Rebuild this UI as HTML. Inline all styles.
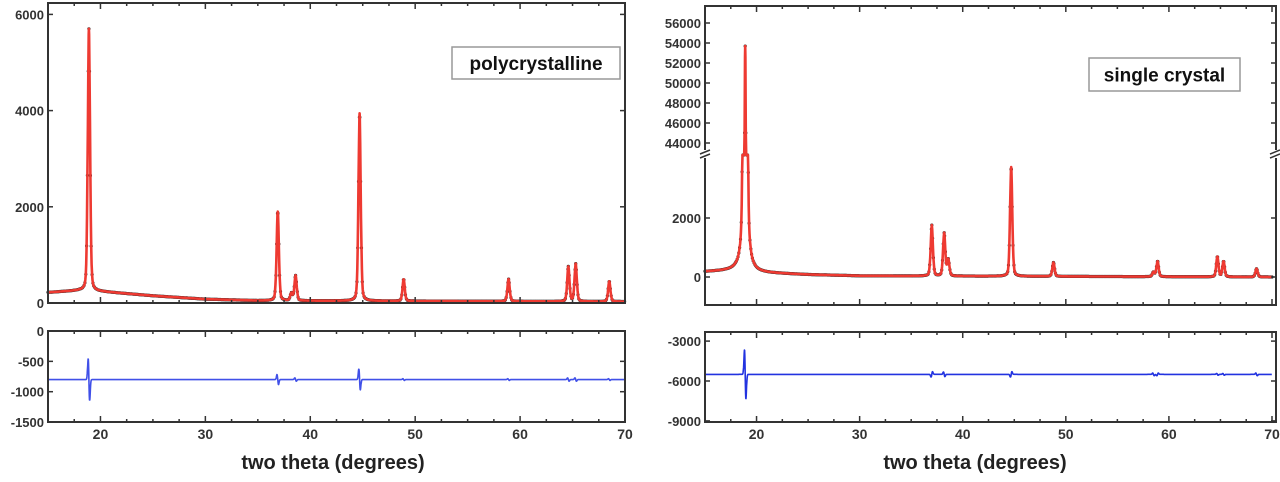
<!DOCTYPE html>
<html><head><meta charset="utf-8"><style>
body{margin:0;background:#fff;width:1280px;height:477px;overflow:hidden}
svg{font-family:"Liberation Sans",Arial,sans-serif;font-weight:bold}
</style></head><body>
<svg id="c" width="1280" height="477"></svg>
<script>
// ---- data ----
const polyPeakPos = [18.9, 36.9, 38.2, 38.6, 44.7, 48.9, 58.9, 64.6, 65.3, 68.5];
const polyPeakInt = [5450, 1850, 150, 520, 3900, 450, 460, 720, 780, 420];
const polyBgX = [15, 18, 20, 25, 30, 35, 50, 70];
const polyBgY = [220, 260, 240, 150, 80, 50, 40, 30];
const polyResAmp = [500, 120, 0, 40, 250, 20, 20, 40, 40, 20];
const singPeakPos = [18.9, 37.0, 38.2, 38.6, 44.7, 48.8, 58.5, 58.9, 64.7, 65.3, 68.5];
const singPeakInt = [53500, 1720, 1450, 550, 3700, 470, 150, 520, 680, 520, 280];
const singBgX = [15, 18, 20, 25, 30, 70];
const singBgY = [180, 220, 150, 80, 40, 0];
const singResAmp = [2700, -300, 250, 0, -300, 0, 150, -150, 100, 100, 150];
const xTicks = [20, 30, 40, 50, 60, 70];
const polyYTicks = [0, 2000, 4000, 6000];
const polyResTicks = [0, -500, -1000, -1500];
const singLowTicks = [0, 2000];
const singHighTicks = [44000, 46000, 48000, 50000, 52000, 54000, 56000];
const singResTicks = [-3000, -6000, -9000];

const svg = document.getElementById('c');
const NS = 'http://www.w3.org/2000/svg';
function mk(t, a, p) { const e = document.createElementNS(NS, t); for (const k in a) e.setAttribute(k, a[k]); (p || svg).appendChild(e); return e; }
function interp(xs, ys, x) { for (let i = 0; i < xs.length - 1; i++) if (x <= xs[i + 1]) return ys[i] + (ys[i + 1] - ys[i]) * (x - xs[i]) / (xs[i + 1] - xs[i]); return ys[ys.length - 1]; }
function profile(x, pos, ints, bx, by) { let v = interp(bx, by, x); for (let i = 0; i < pos.length; i++) { const d = (x - pos[i]) / 0.16; v += ints[i] / (1 + d * d * 2) * 0.35 + ints[i] * 0.65 * Math.exp(-d * d); } return v; }
function residual(x, pos, amp, base) { let v = base; for (let i = 0; i < pos.length; i++) { const d = (x - pos[i]) / 0.1; v += amp[i] * d * Math.exp(-d * d) * -1.6; } return v; }
function samples(pos) { const s = []; for (let x = 15; x <= 70; x += 0.04) s.push(x); pos.forEach(p => s.push(p)); return s.sort((a, b) => a - b); }

function frame(x0, y0, x1, y1, name) {
  const r = mk('rect', { x: x0, y: y0, width: x1 - x0, height: y1 - y0, fill: 'none', stroke: '#333', 'stroke-width': 2 });
  
  
}
function xAxis(X, y0, y1, labels) {
  for (let v = 15; v <= 70; v += 2.5) { const len = v % 10 === 0 ? 6 : 3; mk('line', { x1: X(v), x2: X(v), y1: y1, y2: y1 - len, stroke: '#333', 'stroke-width': 1.5 }); mk('line', { x1: X(v), x2: X(v), y1: y0, y2: y0 + len, stroke: '#333', 'stroke-width': 1.5 }); }
  if (labels) for (const v of xTicks) { const t = mk('text', { x: X(v), y: y1 + 17, 'text-anchor': 'middle', 'font-size': 14, fill: '#333' }); t.textContent = v;   }
}
function yLabels(Y, ticks, x, x1, name) {
  for (const v of ticks) { const t = mk('text', { x: x - 4, y: Y(v) + 5, 'text-anchor': 'end', 'font-size': 13, fill: '#333' }); t.textContent = v;  
    mk('line', { x1: x, x2: x + 5, y1: Y(v), y2: Y(v), stroke: '#333', 'stroke-width': 1.5 }); mk('line', { x1: x1, x2: x1 - 5, y1: Y(v), y2: Y(v), stroke: '#333', 'stroke-width': 1.5 }); }
}
function line(pts, color, w, name) {
  const p = mk('polyline', { points: pts.map(q => q[0].toFixed(1) + ',' + q[1].toFixed(1)).join(' '), fill: 'none', stroke: color, 'stroke-width': w, 'stroke-linejoin': 'round' });
   
}
function dots(pts, name) {
  const g = mk('g', { fill: '#222' });  
  pts.forEach((q, i) => { if (i % 2 === 0) mk('circle', { cx: q[0].toFixed(1), cy: q[1].toFixed(1), r: 1.6 }, g); });
}
function label(x, y, w, h, txt, name) {
  const g = mk('g', {});  
  mk('rect', { x, y, width: w, height: h, fill: '#fff', stroke: '#999', 'stroke-width': 1.5 }, g);
  const t = mk('text', { x: x + w / 2, y: y + h / 2 + 7, 'text-anchor': 'middle', 'font-size': 19, fill: '#111' }, g); t.textContent = txt;
}
function title(x, txt) { const t = mk('text', { x, y: 469, 'text-anchor': 'middle', 'font-size': 20, fill: '#222' }); t.textContent = txt;   }

// ---- left panel ----
{
  const X = v => 48 + (v - 15) * (625 - 48) / 55;
  const Y = v => 303 - v * 0.0481;
  const R = v => 331 + (-v) * 0.0607;
  const pts = samples(polyPeakPos).map(x => [X(x), Y(profile(x, polyPeakPos, polyPeakInt, polyBgX, polyBgY))]);
  dots(pts, 'observed-points');
  line(pts, '#ee3a32', 2.6, 'calculated-line');
  const rp = [];
  for (let x = 15; x <= 70; x += 0.02) rp.push([X(x), R(residual(x, polyPeakPos, polyResAmp, -800))]);
  line(rp, '#4050e8', 1.6, 'difference-line');
  frame(48, 3, 625, 303, 'main-plot-frame');
  frame(48, 331, 625, 422, 'residual-plot-frame');
  xAxis(X, 3, 303, false); xAxis(X, 331, 422, true);
  yLabels(Y, polyYTicks, 48, 625, 'y-tick-label');
  yLabels(R, polyResTicks, 48, 625, 'residual-tick-label');
  label(452, 47, 168, 32, 'polycrystalline', 'sample-label');
  title(333, 'two theta (degrees)');
}
// ---- right panel ----
{
  const X = v => 705 + (v - 15) * (1272 - 705) / 55;
  const Ylow = v => 277 - v * 0.0295;
  const Yhigh = v => 23 + (56000 - v) * 0.01;
  const Y = v => v <= 4130 ? Ylow(v) : (v < 43200 ? 155 : Yhigh(v));
  const R = v => 381 + (-6000 - v) * 0.0133;
  const pts = samples(singPeakPos).map(x => [X(x), Y(profile(x, singPeakPos, singPeakInt, singBgX, singBgY))]);
  dots(pts, 'observed-points');
  line(pts, '#ee3a32', 2.6, 'calculated-line');
  const rp = [];
  for (let x = 15; x <= 70; x += 0.02) rp.push([X(x), R(residual(x, singPeakPos, singResAmp, -5500))]);
  line(rp, '#2233e0', 1.6, 'difference-line');
  frame(705, 6, 1276, 305, 'main-plot-frame');
  frame(705, 332, 1276, 422, 'residual-plot-frame');
  mk('rect', { x: 700, y: 150, width: 12, height: 8, fill: '#fff' });
  mk('rect', { x: 1270, y: 150, width: 12, height: 8, fill: '#fff' });
  mk('path', { d: 'M700,154 l10,-4 M700,158 l10,-4 M1270,154 l10,-4 M1270,158 l10,-4', stroke: '#333', 'stroke-width': 1.5 });
  xAxis(X, 6, 305, false); xAxis(X, 332, 422, true);
  yLabels(Ylow, singLowTicks, 705, 1276, 'y-tick-label');
  yLabels(Yhigh, singHighTicks, 705, 1276, 'y-tick-label-upper');
  yLabels(R, singResTicks, 705, 1276, 'residual-tick-label');
  label(1089, 58, 151, 33, 'single crystal', 'sample-label');
  title(975, 'two theta (degrees)');
}
</script>
</body></html>
